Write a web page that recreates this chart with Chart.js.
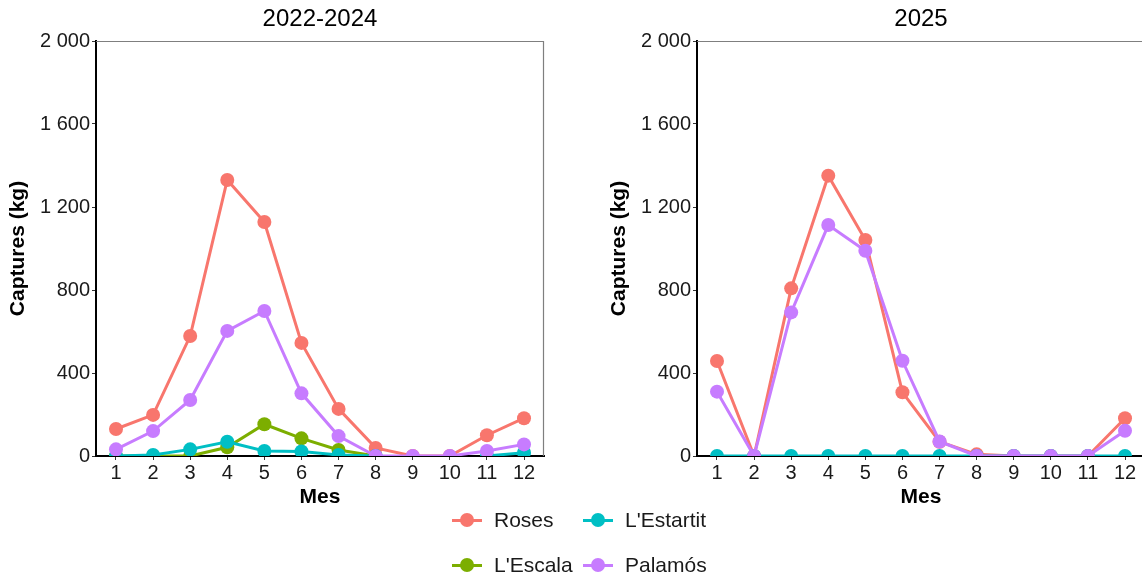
<!DOCTYPE html>
<html>
<head>
<meta charset="utf-8">
<script src="https://cdn.jsdelivr.net/npm/chart.js@4"></script>
<style>
  html, body { margin: 0; padding: 0; background: #fff; overflow: hidden; }
  body { width: 1142px; height: 580px; position: relative; font-family: "Liberation Sans", Arial, sans-serif; }
  .box { position: absolute; top: 0; height: 510px; }
  .ttl { position: absolute; top: 4px; font-size: 24px; color: #000; transform: translateX(-50%); white-space: nowrap; }
  .legend { position: absolute; left: 450px; top: 503px; display: grid; grid-template-columns: 131px 140px; row-gap: 11px; font-size: 21px; color: #1a1a1a; }
  .item { display: flex; align-items: center; height: 34px; }
  .key { position: relative; width: 32px; height: 34px; margin-right: 12px; }
  .key .ln { position: absolute; left: 2px; right: 0; top: 15.5px; height: 3px; }
  .key .dt { position: absolute; left: 10px; top: 10px; width: 14px; height: 14px; border-radius: 50%; }
</style>
</head>
<body>
<div class="box" style="left:0;width:560px"><canvas id="chartA"></canvas></div>
<div class="box" style="left:601px;width:554px"><canvas id="chartB"></canvas></div>
<div class="ttl" style="left:320px">2022-2024</div>
<div class="ttl" style="left:921px">2025</div>
<div class="legend" id="legend"></div>
<script>
const months = [1, 2, 3, 4, 5, 6, 7, 8, 9, 10, 11, 12];
const yTicks = [0, 400, 800, 1200, 1600, 2000];

const seriesNames = ['Roses', "L'Escala", "L'Estartit", 'Palamós'];
const seriesColors = ['#f8766d', '#7cae00', '#00bfc4', '#c77cff'];

// 2022-2024
const roses1 = [130, 198, 578, 1330, 1128, 545, 227, 39, 0, 0, 100, 182];
const escala1 = [0, 0, 0, 42, 153, 85, 29, 0, null, null, null, null];
const estartit1 = [0, 5, 32, 69, 24, 22, 5, 0, null, null, 0, 16];
const palamos1 = [32, 120, 270, 603, 699, 302, 96, 0, 0, 0, 24, 56];

// 2025
const roses2 = [458, 0, 808, 1351, 1041, 307, 69, 8, 0, 0, 0, 182];
const escala2 = [null, null, null, null, null, null, null, null, null, null, null, null];
const estartit2 = [0, 0, 0, 0, 0, 0, 0, 0, 0, 0, 0, 0];
const palamos2 = [310, 0, 692, 1113, 989, 459, 70, 0, 0, 0, 0, 122];

function fmt(v) {
  return String(v).replace(/\B(?=(\d{3})+(?!\d))/g, ' ');
}

const frame = {
  id: 'frame',
  afterDatasetsDraw(chart) {
    const a = chart.chartArea, c = chart.ctx;
    c.save();
    c.strokeStyle = '#7f7f7f';
    c.lineWidth = 1.2;
    c.beginPath();
    c.moveTo(a.left, a.top + 0.5);
    c.lineTo(a.right - 0.5, a.top + 0.5);
    c.lineTo(a.right - 0.5, a.bottom);
    c.stroke();
    c.restore();
  }
};

function makeChart(id, sets, padRight) {
  const datasets = sets.map((d, i) => ({
    label: seriesNames[i],
    data: d,
    borderColor: seriesColors[i],
    backgroundColor: seriesColors[i],
    borderWidth: 3,
    pointRadius: 7,
    pointHoverRadius: 7,
    pointBorderWidth: 0,
    clip: 0,
    order: 4 - i,
    spanGaps: false
  }));
  return new Chart(document.getElementById(id), {
    type: 'line',
    data: { labels: months, datasets: datasets },
    options: {
      responsive: true,
      maintainAspectRatio: false,
      animation: false,
      layout: { padding: { top: 41, right: padRight, left: 0, bottom: 0 } },
      plugins: { legend: { display: false }, tooltip: { enabled: false }, title: { display: false } },
      scales: {
        x: {
          type: 'linear',
          min: 0.461,
          max: 12.539,
          afterBuildTicks: s => { s.ticks = months.map(v => ({ value: v })); },
          afterFit: s => { s.height = 54; },
          grid: { drawOnChartArea: false, drawTicks: true, tickLength: 4, color: '#333', lineWidth: 1 },
          border: { color: '#000', width: 2 },
          ticks: { color: '#1a1a1a', font: { size: 20, family: 'Liberation Sans' }, padding: 1, maxRotation: 0, autoSkip: false },
          title: { display: true, text: 'Mes', color: '#000', font: { size: 21, weight: 'bold', family: 'Liberation Sans' }, padding: { top: 0, bottom: 0 } }
        },
        y: {
          min: 0,
          max: 2000,
          afterBuildTicks: s => { s.ticks = yTicks.map(v => ({ value: v })); },
          afterFit: s => { s.width = 96; },
          grid: { drawOnChartArea: false, drawTicks: true, tickLength: 4, color: '#333', lineWidth: 1 },
          border: { color: '#000', width: 2 },
          ticks: { color: '#1a1a1a', font: { size: 20, family: 'Liberation Sans' }, padding: 2, callback: v => fmt(v) },
          title: { display: true, text: 'Captures (kg)', color: '#000', font: { size: 21, weight: 'bold', family: 'Liberation Sans' }, padding: { top: 6, bottom: 0 } }
        }
      }
    },
    plugins: [frame]
  });
}

makeChart('chartA', [roses1, escala1, estartit1, palamos1], 16);
makeChart('chartB', [roses2, escala2, estartit2, palamos2], 10);

// legend in two columns: Roses / L'Escala, L'Estartit / Palamós
const legendOrder = [0, 2, 1, 3];
const lg = document.getElementById('legend');
legendOrder.forEach(i => {
  const it = document.createElement('div');
  it.className = 'item';
  it.innerHTML = '<div class="key"><div class="ln" style="background:' + seriesColors[i] + '"></div><div class="dt" style="background:' + seriesColors[i] + '"></div></div><span>' + seriesNames[i] + '</span>';
  lg.appendChild(it);
});
</script>
</body>
</html>
